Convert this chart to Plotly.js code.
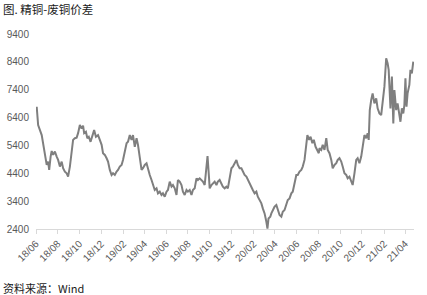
<!DOCTYPE html>
<html><head><meta charset="utf-8">
<script src="https://cdn.plot.ly/plotly-3.0.1.min.js"></script>
<style>html,body{margin:0;padding:0;background:#fff}#c{width:427px;height:295px}</style>
</head><body><div id="c"></div>
<script>
const dates = ["2018-06-03","2018-06-07","2018-06-17","2018-06-21","2018-06-26","2018-07-01","2018-07-05","2018-07-08","2018-07-12","2018-07-15","2018-07-19","2018-07-24","2018-07-29","2018-08-02","2018-08-07","2018-08-12","2018-08-16","2018-08-21","2018-08-26","2018-08-30","2018-09-04","2018-09-09","2018-09-13","2018-09-18","2018-09-23","2018-09-27","2018-10-02","2018-10-07","2018-10-11","2018-10-14","2018-10-19","2018-10-23","2018-10-27","2018-11-01","2018-11-07","2018-11-11","2018-11-16","2018-11-22","2018-11-27","2018-12-02","2018-12-06","2018-12-11","2018-12-16","2018-12-20","2018-12-25","2018-12-30","2019-01-03","2019-01-08","2019-01-13","2019-01-17","2019-01-22","2019-01-27","2019-01-31","2019-02-05","2019-02-10","2019-02-14","2019-02-19","2019-02-24","2019-02-28","2019-03-05","2019-03-10","2019-03-14","2019-03-19","2019-03-24","2019-03-28","2019-04-02","2019-04-07","2019-04-11","2019-04-16","2019-04-21","2019-04-25","2019-04-30","2019-05-05","2019-05-09","2019-05-14","2019-05-19","2019-05-23","2019-05-28","2019-06-02","2019-06-06","2019-06-11","2019-06-16","2019-06-20","2019-06-25","2019-06-30","2019-07-04","2019-07-09","2019-07-14","2019-07-18","2019-07-23","2019-07-28","2019-08-01","2019-08-06","2019-08-11","2019-08-15","2019-08-20","2019-08-25","2019-08-29","2019-09-03","2019-09-08","2019-09-12","2019-09-17","2019-09-22","2019-09-25","2019-09-29","2019-10-01","2019-10-06","2019-10-10","2019-10-15","2019-10-20","2019-10-24","2019-10-29","2019-11-03","2019-11-07","2019-11-12","2019-11-17","2019-11-21","2019-11-26","2019-12-01","2019-12-05","2019-12-10","2019-12-15","2019-12-19","2019-12-24","2019-12-29","2020-01-02","2020-01-07","2020-01-12","2020-01-16","2020-01-21","2020-01-26","2020-01-30","2020-02-04","2020-02-09","2020-02-13","2020-02-18","2020-02-23","2020-02-27","2020-03-03","2020-03-08","2020-03-11","2020-03-14","2020-03-19","2020-03-22","2020-03-26","2020-03-31","2020-04-05","2020-04-09","2020-04-14","2020-04-19","2020-04-23","2020-04-28","2020-05-03","2020-05-07","2020-05-12","2020-05-17","2020-05-21","2020-05-26","2020-05-31","2020-06-04","2020-06-09","2020-06-14","2020-06-18","2020-06-23","2020-06-28","2020-07-01","2020-07-06","2020-07-10","2020-07-15","2020-07-19","2020-07-24","2020-07-29","2020-08-02","2020-08-04","2020-08-09","2020-08-13","2020-08-18","2020-08-23","2020-08-27","2020-09-01","2020-09-06","2020-09-10","2020-09-15","2020-09-20","2020-09-24","2020-09-29","2020-10-04","2020-10-08","2020-10-13","2020-10-18","2020-10-22","2020-10-27","2020-11-01","2020-11-05","2020-11-10","2020-11-15","2020-11-19","2020-11-24","2020-11-29","2020-12-03","2020-12-08","2020-12-13","2020-12-17","2020-12-20","2020-12-23","2020-12-27","2020-12-31","2021-01-05","2021-01-10","2021-01-14","2021-01-19","2021-01-24","2021-01-28","2021-02-02","2021-02-07","2021-02-11","2021-02-14","2021-02-19","2021-02-23","2021-02-27","2021-03-02","2021-03-07","2021-03-11","2021-03-16","2021-03-19","2021-03-23","2021-03-27","2021-03-30","2021-04-02","2021-04-05","2021-04-08","2021-04-13","2021-04-16","2021-04-20","2021-04-24"];
const spread = [6790,6130,5770,5420,5130,4700,4820,4520,5000,5200,5060,5180,5000,4880,4640,4820,4580,4460,4400,4280,4640,5240,5600,5660,5680,5840,6130,6010,6110,5840,5890,5660,5710,5530,5840,5950,5710,5770,5600,5420,5120,5060,4940,4820,4520,4340,4400,4340,4460,4520,4640,4700,4880,5200,5480,5530,5770,5600,5770,5350,5660,5420,5000,4520,4580,4700,4760,4520,4340,4160,3980,3800,3860,3680,3740,3620,3680,3560,3740,3800,4100,3920,3980,3860,3620,4160,4100,3980,3740,3620,3800,3740,3800,3620,3800,3860,4220,4160,4220,4160,4100,3980,4640,5020,4280,3860,3980,4040,4100,3980,4100,4160,4020,3920,3860,3920,3860,4280,4580,4640,4760,4880,4700,4580,4580,4460,4340,4280,4160,4040,3860,3800,3680,3740,3560,3440,3320,3140,2960,2660,2410,2780,2840,2960,3080,3200,3260,3080,2900,2840,3020,3080,3320,3440,3500,3680,3740,4040,4340,4340,4460,4520,4640,4880,5350,5770,5600,5710,5480,5600,5350,5240,5120,5300,5240,5420,5240,5660,5240,5120,4880,4580,4700,4760,4880,4940,4820,4640,4400,4340,4220,4280,4100,3980,4400,4880,4940,4760,5000,5350,5770,5660,5840,5600,6670,7030,7270,6910,7090,6730,6550,6490,6910,7510,8530,8350,8110,6730,7870,6190,7390,6670,6910,6550,6250,6730,6550,6850,7810,6790,7270,7570,8110,7990,8410];
const yTicks = [2400,3400,4400,5400,6400,7400,8400,9400];
const titleText = "图. 精铜-废铜价差";
const sourceText = "资料来源：Wind";

const cjk = '"Noto Sans CJK SC", "Noto Sans", sans-serif';
Plotly.newPlot('c', [{
  x: dates, y: spread, type: 'scatter', mode: 'lines',
  line: {color: '#7f7f7f', width: 2}, hoverinfo: 'skip'
}], {
  width: 427, height: 295,
  margin: {l: 36, r: 13, t: 34, b: 66},
  paper_bgcolor: '#fff', plot_bgcolor: '#fff',
  showlegend: false,
  font: {family: '"Liberation Sans", Arial, sans-serif', size: 10, color: '#595959'},
  xaxis: {
    type: 'date', range: ['2018-06-01', '2021-04-26'],
    tick0: '2018-06-01', dtick: 'M2', tickformat: '%y/%m', tickangle: -45,
    showgrid: false, zeroline: false,
    showline: true, linecolor: '#d9d9d9', linewidth: 1,
    ticks: 'outside', ticklen: 4, tickcolor: '#d9d9d9',
    tickfont: {size: 10, color: '#595959'}
  },
  yaxis: {
    range: [2400, 9400], tickvals: yTicks, ticktext: yTicks.map(String),
    showgrid: false, zeroline: false, showline: false, ticks: '',
    ticklabelstandoff: 6,
    tickfont: {size: 10, color: '#595959'}
  },
  annotations: [
    {text: titleText, xref: 'paper', yref: 'paper', x: 0, y: 1, xanchor: 'left', yanchor: 'top',
     showarrow: false, font: {family: cjk, size: 11.5, color: '#1a1a1a'}, xshift: -35, yshift: 35},
    {text: sourceText, xref: 'paper', yref: 'paper', x: 0, y: 0, xanchor: 'left', yanchor: 'bottom',
     showarrow: false, font: {family: cjk, size: 11, color: '#1a1a1a'}, xshift: -35, yshift: -69}
  ]
}, {displayModeBar: false, staticPlot: true});
</script></body></html>
